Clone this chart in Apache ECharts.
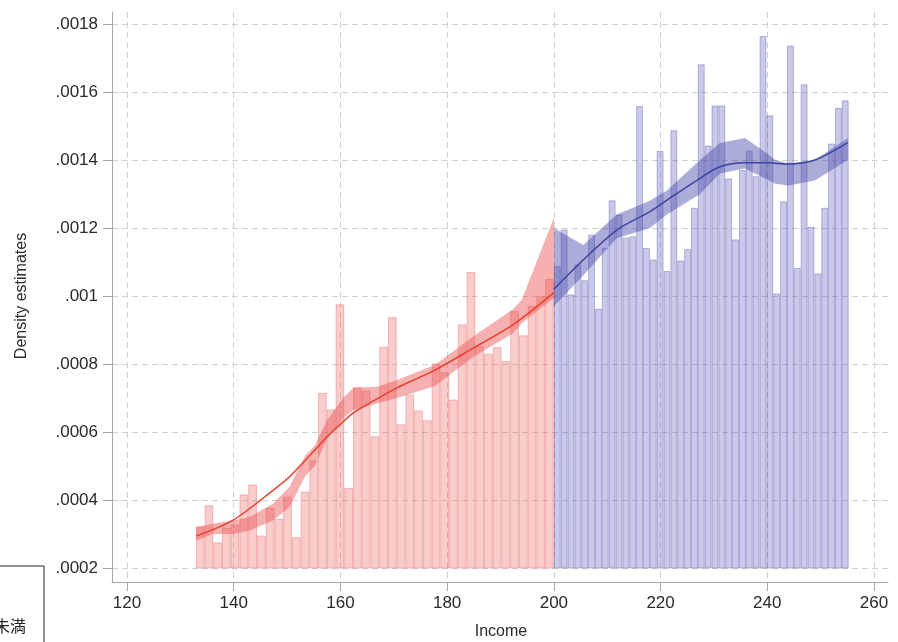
<!DOCTYPE html>
<html>
<head>
<meta charset="utf-8">
<script src="https://cdn.jsdelivr.net/npm/echarts@6/dist/echarts.min.js"></script>
<style>
html,body{margin:0;padding:0;background:#fff;}
#c{width:898px;height:642px;}
</style>
</head>
<body>
<div id="c"></div>
<script>
// ---- data ----
const xTicks = [120, 140, 160, 180, 200, 220, 240, 260];
const yTicks = [0.0002, 0.0004, 0.0006, 0.0008, 0.001, 0.0012, 0.0014, 0.0016, 0.0018];

const redBinStart = 132.9;
const redBinWidth = (200 - 132.9) / 41;
const redDensity = [
  0.000321, 0.000383, 0.000274, 0.000317, 0.000326, 0.000415, 0.000444, 0.000294,
  0.000376, 0.000343, 0.000408, 0.000289, 0.000423, 0.000515, 0.000714, 0.000665,
  0.000974, 0.000434, 0.000730, 0.000720, 0.000586, 0.000849, 0.000936, 0.000621,
  0.000709, 0.000662, 0.000633, 0.000800, 0.000774, 0.000694, 0.000915, 0.001069,
  0.000851, 0.000829, 0.000848, 0.000807, 0.000954, 0.000883, 0.000969, 0.000998,
  0.001049
];

const blueBinStart = 200;
const blueBinWidth = 1.285;
const blueDensity = [
  0.001086, 0.001194, 0.001003, 0.001091, 0.001045, 0.001179, 0.000961, 0.001140,
  0.001280, 0.001238, 0.001170, 0.001174, 0.001557, 0.001140, 0.001106, 0.001425,
  0.001072, 0.001486, 0.001103, 0.001137, 0.001258, 0.001680, 0.001441, 0.001559,
  0.001559, 0.001344, 0.001165, 0.001369, 0.001426, 0.001351, 0.001763, 0.001530,
  0.001006, 0.001277, 0.001735, 0.001081, 0.001621, 0.001202, 0.001065, 0.001258,
  0.001447, 0.001552, 0.001574
];

const redFitX = [133.0, 139.9, 147.4, 150.5, 155.2, 157.5, 162.4, 165.5, 170.6, 177.7, 184.8, 192.3, 200.0];
const redFit  = [0.000294, 0.000341, 0.000429, 0.000469, 0.000547, 0.000586, 0.000656, 0.000685, 0.00073, 0.000782, 0.000846, 0.000915, 0.00101];

const redBandX  = [133.0, 136.0, 139.9, 143.0, 147.4, 150.5, 153.4, 155.2, 157.5, 160.5, 162.4, 166.9, 170.6, 177.7, 184.8, 192.3, 194.0, 200.0];
const redBandLo = [0.00028, 0.0003, 0.0003, 0.00031, 0.00034, 0.00038, 0.00047, 0.0005, 0.00058, 0.00064, 0.000665, 0.000684, 0.0007, 0.000735, 0.00082, 0.00089, 0.00092, 0.000995];
const redBandHi = [0.00032, 0.00033, 0.00034, 0.00035, 0.00039, 0.00044, 0.00053, 0.00056, 0.000635, 0.0007, 0.00073, 0.000733, 0.000753, 0.000797, 0.00088, 0.00096, 0.00099, 0.00123];

const blueFitX = [200.0, 205.5, 211.8, 218.0, 221.2, 227.4, 231.1, 235.8, 240.1, 243.9, 248.9, 255.1];
const blueFit  = [0.00102, 0.001106, 0.001194, 0.001248, 0.001282, 0.001346, 0.00138, 0.001392, 0.001392, 0.001388, 0.0014, 0.001451];

const blueBandX  = [200.0, 205.5, 211.8, 218.0, 221.2, 227.4, 231.1, 235.8, 239.0, 241.5, 244.0, 248.9, 255.1];
const blueBandLo = [0.00097, 0.00106, 0.00117, 0.0012, 0.00124, 0.0013, 0.00136, 0.001375, 0.00135, 0.00133, 0.001325, 0.00134, 0.0014];
const blueBandHi = [0.0012, 0.00115, 0.00124, 0.00128, 0.00131, 0.0014, 0.00145, 0.001465, 0.00143, 0.0014, 0.00139, 0.0014, 0.001465];

// ---- chart ----
const FONT = '"Liberation Sans", Arial, Helvetica, sans-serif';
const GRIDC = '#d0d0d0';
const AXC = '#a8a8a8';
const TXT = '#2a2a2a';
const yMin = yTicks[0], yMax = yTicks[yTicks.length - 1];
const xMin = xTicks[0], xMax = xTicks[xTicks.length - 1];

function fmtY(v) {
  let s = (+v).toFixed(4).replace(/0+$/, '').replace(/\.$/, '');
  return s.replace(/^0\./, '.');
}

function barSeries(start, width, vals, fill, stroke) {
  return {
    type: 'custom', xAxisIndex: 3, yAxisIndex: 3, silent: true, z: 2,
    data: vals.map((v, i) => [start + i * width, start + (i + 1) * width, v]),
    encode: { x: [0, 1], y: 2 },
    renderItem: function (params, api) {
      const p0 = api.coord([api.value(0), api.value(2)]);
      const p1 = api.coord([api.value(1), yMin]);
      return {
        type: 'rect',
        shape: { x: p0[0] + 0.5, y: p0[1], width: p1[0] - p0[0] - 1, height: p1[1] - p0[1] },
        style: { fill: fill, stroke: stroke, lineWidth: 1 }
      };
    }
  };
}

function bandSeries(xs, lo, hi, fill) {
  return {
    type: 'custom', xAxisIndex: 3, yAxisIndex: 3, silent: true, z: 3,
    data: [[xs[0], lo[0]]],
    renderItem: function (params, api) {
      const pts = [];
      for (let i = 0; i < xs.length; i++) pts.push(api.coord([xs[i], hi[i]]));
      for (let i = xs.length - 1; i >= 0; i--) pts.push(api.coord([xs[i], lo[i]]));
      return { type: 'polygon', shape: { points: pts }, style: { fill: fill } };
    }
  };
}

function lineSeries(xs, ys, color) {
  return {
    type: 'line', xAxisIndex: 3, yAxisIndex: 3, silent: true, z: 4,
    data: xs.map((x, i) => [x, ys[i]]),
    showSymbol: false, smooth: 0.3,
    lineStyle: { color: color, width: 1.5 }
  };
}

const chart = echarts.init(document.getElementById('c'), null, { renderer: 'canvas' });
chart.setOption({
  animation: false,
  backgroundColor: '#fff',
  textStyle: { fontFamily: FONT },
  grid: [
    { left: 112, right: 10, top: 12, bottom: 60, outerBoundsMode: 'none' },   // frame axes
    { left: 112, right: 10, top: 24, bottom: 74, outerBoundsMode: 'none' },   // y ticks
    { left: 127, right: 24, top: 12, bottom: 60, outerBoundsMode: 'none' },   // x ticks
    { left: 127, right: 24, top: 24, bottom: 74, outerBoundsMode: 'none' }    // data
  ],
  xAxis: [
    { gridIndex: 0, type: 'value', min: 0, max: 1, axisLine: { show: true, onZero: false, lineStyle: { color: AXC, width: 1 } },
      axisTick: { show: false }, axisLabel: { show: false }, splitLine: { show: false } },
    { gridIndex: 1, type: 'value', min: 0, max: 1, show: false },
    { gridIndex: 2, type: 'value', min: xMin, max: xMax, interval: 20,
      axisLine: { show: false }, axisTick: { show: true, length: 9, lineStyle: { color: AXC } },
      axisLabel: { show: true, margin: 13, color: TXT, fontSize: 17, fontFamily: FONT },
      splitLine: { show: true, lineStyle: { color: GRIDC, type: [6, 4], width: 1 } } },
    { gridIndex: 3, type: 'value', min: xMin, max: xMax, show: false }
  ],
  yAxis: [
    { gridIndex: 0, type: 'value', min: 0, max: 1, axisLine: { show: true, onZero: false, lineStyle: { color: AXC, width: 1 } },
      axisTick: { show: false }, axisLabel: { show: false }, splitLine: { show: false } },
    { gridIndex: 1, type: 'value', min: yMin, max: yMax, interval: 0.0002,
      axisLine: { show: false }, axisTick: { show: true, length: 9, lineStyle: { color: AXC } },
      axisLabel: { show: true, margin: 14, color: TXT, fontSize: 17, fontFamily: FONT, formatter: fmtY },
      splitLine: { show: true, lineStyle: { color: GRIDC, type: [6, 4], width: 1 } },
      name: 'Density estimates', nameLocation: 'middle', nameGap: 82, nameRotate: 90,
      nameTextStyle: { color: TXT, fontSize: 16, fontFamily: FONT } },
    { gridIndex: 2, type: 'value', min: 0, max: 1, show: false },
    { gridIndex: 3, type: 'value', min: yMin, max: yMax, show: false }
  ],
  series: [
    barSeries(redBinStart, redBinWidth, redDensity, 'rgba(238,90,90,0.30)', 'rgba(232,90,90,0.38)'),
    barSeries(blueBinStart, blueBinWidth, blueDensity, 'rgba(80,80,180,0.30)', 'rgba(80,80,180,0.38)'),
    bandSeries(redBandX, redBandLo, redBandHi, 'rgba(235,80,80,0.45)'),
    bandSeries(blueBandX, blueBandLo, blueBandHi, 'rgba(70,70,170,0.45)'),
    lineSeries(redFitX, redFit, '#e8402a'),
    lineSeries(blueFitX, blueFit, '#3c44a0')
  ],
  graphic: [
    { type: 'text', x: 501, y: 632, style: { text: 'Income', font: '16px "Liberation Sans", Arial, sans-serif', fill: TXT, textAlign: 'center', textVerticalAlign: 'middle' }, z: 10 },
    { type: 'rect', shape: { x: -2, y: 566, width: 46, height: 90 }, style: { fill: 'none', stroke: '#222', lineWidth: 1 }, z: 10 },
    { type: 'text', left: -6, top: 618, style: { text: '未満', font: '16px "Noto Sans CJK JP", sans-serif', fill: '#222' }, z: 10 }
  ]
});
</script>
</body>
</html>
